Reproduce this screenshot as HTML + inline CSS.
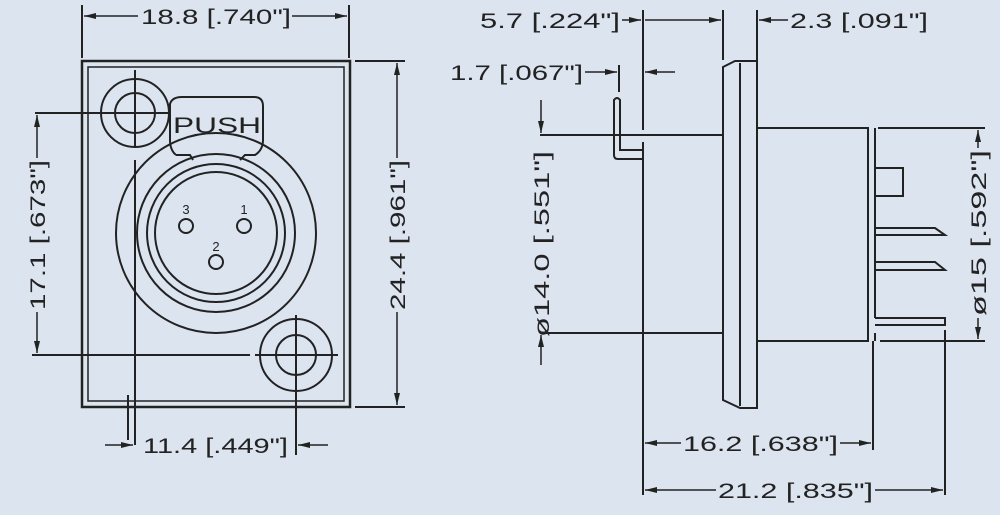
<!DOCTYPE html>
<html><head><meta charset="utf-8"><style>
html,body{margin:0;padding:0;background:#dce4f0;}
svg{display:block}
text{font-family:"Liberation Sans",sans-serif;fill:#222;}
</style></head><body>
<svg width="1000" height="515" viewBox="0 0 1000 515" xmlns="http://www.w3.org/2000/svg">
<defs>
<marker id="a" viewBox="0 0 12 6" refX="12" refY="3" markerWidth="12" markerHeight="6" orient="auto-start-reverse" markerUnits="userSpaceOnUse"><path d="M0,0 L12,3 L0,6 z" fill="#222"/></marker>
</defs>
<rect width="1000" height="515" fill="#dce4f0"/>
<g stroke="#222" stroke-width="2" fill="none">
<rect x="82" y="61" width="268" height="346" stroke-width="2.5"/>
<rect x="88" y="67" width="256" height="334" stroke-width="1.5"/>
<circle cx="135" cy="113" r="34"/>
<circle cx="135" cy="113" r="20"/>
<path d="M135,70 V148 M135,160 V445 M35,113 H170"/>
<path d="M176,155 Q170,150 170,140 V104 Q172,97 182,97 H254 Q263,97 263,106 V140 Q263,150 255,155 L245,155 L240,160 M176,155 L190,155 L193,160"/>
<circle cx="216" cy="233" r="100"/>
<circle cx="216" cy="233" r="79"/>
<circle cx="216" cy="233" r="69"/>
<circle cx="216" cy="233" r="61"/>
<circle cx="186" cy="226" r="7"/>
<circle cx="244" cy="226" r="7"/>
<circle cx="216" cy="262" r="7"/>
<circle cx="296" cy="355" r="36"/>
<circle cx="296" cy="355" r="20"/>
<path d="M296,315 V455 M255,355 H338 M32,355 H250"/>
<path d="M128,395 V440"/>
<path d="M82,5 V58 M349,5 V58"/>
<path d="M138,16 H84" marker-end="url(#a)" stroke-width="1.5"/>
<path d="M292,16 H347" marker-end="url(#a)" stroke-width="1.5"/>
<path d="M37,158 V115" marker-end="url(#a)" stroke-width="1.5"/>
<path d="M37,312 V353" marker-end="url(#a)" stroke-width="1.5"/>
<path d="M355,61 H405 M355,407 H405"/>
<path d="M397,158 V63" marker-end="url(#a)" stroke-width="1.5"/>
<path d="M397,312 V405" marker-end="url(#a)" stroke-width="1.5"/>
<path d="M105,445 H133" marker-end="url(#a)" stroke-width="1.5"/>
<path d="M328,445 H298" marker-end="url(#a)" stroke-width="1.5"/>
<path d="M723,67 L735,61 H757 V408 H740 L723,400 Z"/>
<path d="M740,63 V406"/>
<path d="M643,10 V130 M643,142 V495 M723,10 V60 M757,10 V60 M619,65 V92"/>
<path d="M540,135 H723 M540,333 H723"/>
<path d="M757,128 H868 V341 H757"/>
<path d="M875,128 V318 M875,333 V341"/>
<path d="M878,128 H985 M880,341 H985"/>
<rect x="875" y="168" width="28" height="28"/>
<path d="M875,228 H935 L945,235 H875"/>
<path d="M875,262 H935 L945,270 H875"/>
<path d="M875,318 H945 V325 H875"/>
<path d="M945,330 V495 M873,341 V450"/>
<path d="M614,155 V100 Q617,96 620,100 V150 H643 M614,155 Q614,159 618,159 H643"/>
<path d="M622,20 H641" marker-end="url(#a)" stroke-width="1.5"/>
<path d="M700,20 H645 M700,20 H721" marker-end="url(#a)" stroke-width="1.5"/>
<path d="M788,20 H759" marker-end="url(#a)" stroke-width="1.5"/>
<path d="M585,72 H617" marker-end="url(#a)" stroke-width="1.5"/>
<path d="M675,72 H645" marker-end="url(#a)" stroke-width="1.5"/>
<path d="M541,100 V133" marker-end="url(#a)" stroke-width="1.5"/>
<path d="M541,365 V335" marker-end="url(#a)" stroke-width="1.5"/>
<path d="M978,148 V130" marker-end="url(#a)" stroke-width="1.5"/>
<path d="M978,318 V339" marker-end="url(#a)" stroke-width="1.5"/>
<path d="M681,443 H645" marker-end="url(#a)" stroke-width="1.5"/>
<path d="M840,443 H871" marker-end="url(#a)" stroke-width="1.5"/>
<path d="M716,490 H645" marker-end="url(#a)" stroke-width="1.5"/>
<path d="M875,490 H943" marker-end="url(#a)" stroke-width="1.5"/>
</g>
<g font-size="21">
<text x="141" y="24" textLength="150" lengthAdjust="spacingAndGlyphs">18.8 [.740"]</text>
<text x="173" y="133" font-size="22" textLength="88" lengthAdjust="spacingAndGlyphs">PUSH</text>
<text x="186" y="214" text-anchor="middle" font-size="13">3</text>
<text x="244" y="214" text-anchor="middle" font-size="13">1</text>
<text x="216" y="251" text-anchor="middle" font-size="13">2</text>
<text transform="translate(45,310) rotate(-90)" textLength="150" lengthAdjust="spacingAndGlyphs">17.1 [.673"]</text>
<text transform="translate(405,310) rotate(-90)" textLength="150" lengthAdjust="spacingAndGlyphs">24.4 [.961"]</text>
<text x="143" y="453" textLength="145" lengthAdjust="spacingAndGlyphs">11.4 [.449"]</text>
<text x="480" y="28" textLength="140" lengthAdjust="spacingAndGlyphs">5.7 [.224"]</text>
<text x="790" y="28" textLength="138" lengthAdjust="spacingAndGlyphs">2.3 [.091"]</text>
<text x="450" y="80" textLength="133" lengthAdjust="spacingAndGlyphs">1.7 [.067"]</text>
<text transform="translate(549,337) rotate(-90)" textLength="186" lengthAdjust="spacingAndGlyphs">ø14.0 [.551"]</text>
<text transform="translate(986,316) rotate(-90)" textLength="166" lengthAdjust="spacingAndGlyphs">ø15 [.592"]</text>
<text x="683" y="451" textLength="155" lengthAdjust="spacingAndGlyphs">16.2 [.638"]</text>
<text x="718" y="498" textLength="155" lengthAdjust="spacingAndGlyphs">21.2 [.835"]</text>
</g>
</svg>
</body></html>
